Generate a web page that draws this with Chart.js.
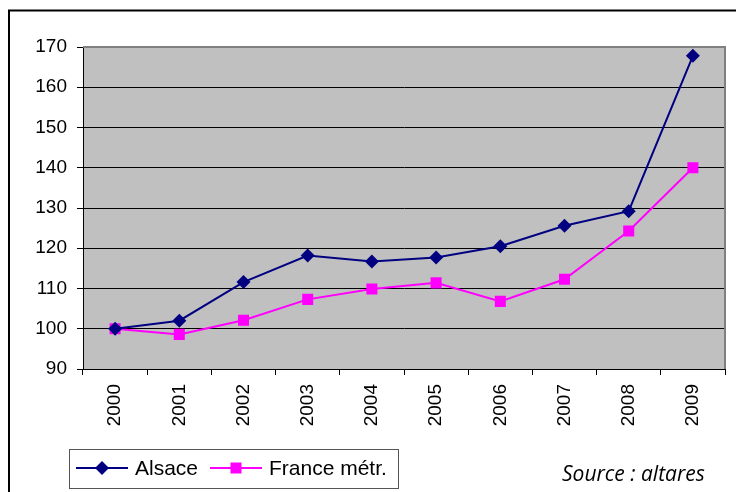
<!DOCTYPE html>
<html>
<head>
<meta charset="utf-8">
<script src="https://cdn.jsdelivr.net/npm/chart.js@4/dist/chart.umd.min.js"></script>
<style>
  html, body { margin: 0; padding: 0; background: #fff; overflow: hidden; }
  canvas { display: block; }
</style>
</head>
<body>
<canvas id="graphique" width="736" height="492"></canvas>
<script>
// données (indice base 100 en 2000)
const annees = ['2000', '2001', '2002', '2003', '2004', '2005', '2006', '2007', '2008', '2009'];
const alsace = [100, 102, 111.6, 118.2, 116.7, 117.7, 120.5, 125.6, 129.2, 167.8];
const franceMetr = [100, 98.6, 102.1, 107.3, 109.9, 111.4, 106.8, 112.3, 124.3, 140.0];
const graduations = [90, 100, 110, 120, 130, 140, 150, 160, 170];

const police = '"Liberation Sans", Arial, sans-serif';

// fond gris, cadre, légende et source
const decor = {
    id: 'decor',
    beforeDraw(chart) {
        const { ctx, chartArea: a } = chart;
        ctx.save();
        ctx.fillStyle = '#c0c0c0';
        ctx.fillRect(a.left, a.top, a.right - a.left, a.bottom - a.top);
        ctx.restore();
    },
    beforeDatasetsDraw(chart) {
        const { ctx, chartArea: a } = chart;
        ctx.save();
        ctx.strokeStyle = '#808080';
        ctx.lineWidth = 2;
        ctx.beginPath();
        ctx.moveTo(a.left, a.top);
        ctx.lineTo(a.right, a.top);
        ctx.lineTo(a.right, a.bottom);
        ctx.stroke();
        ctx.restore();
    },
    afterDraw(chart) {
        const ctx = chart.ctx;
        ctx.save();
        // cadre extérieur
        ctx.strokeStyle = '#000';
        ctx.lineWidth = 2;
        ctx.beginPath();
        ctx.moveTo(9, 492);
        ctx.lineTo(9, 10.5);
        ctx.lineTo(736, 10.5);
        ctx.stroke();

        // légende
        ctx.strokeStyle = '#555';
        ctx.lineWidth = 1;
        ctx.strokeRect(69.5, 449.5, 329, 39);
        const y = 468;
        ctx.lineWidth = 2;
        ctx.strokeStyle = '#000080';
        ctx.beginPath(); ctx.moveTo(76, y); ctx.lineTo(128, y); ctx.stroke();
        ctx.fillStyle = '#000080';
        ctx.beginPath();
        ctx.moveTo(102, y - 7); ctx.lineTo(109, y); ctx.lineTo(102, y + 7); ctx.lineTo(95, y);
        ctx.closePath(); ctx.fill();
        ctx.strokeStyle = '#ff00ff';
        ctx.beginPath(); ctx.moveTo(210, y); ctx.lineTo(262, y); ctx.stroke();
        ctx.fillStyle = '#ff00ff';
        ctx.fillRect(230.5, y - 5.5, 11, 11);

        ctx.fillStyle = '#000';
        ctx.font = '21px ' + police;
        ctx.textBaseline = 'middle';
        ctx.fillText('Alsace', 135, y + 1);
        ctx.fillText('France métr.', 269, y + 1);

        // source
        ctx.font = 'italic 21px "Open Sans", sans-serif';
        ctx.textBaseline = 'alphabetic';
        ctx.fillText('Source : altares', 562, 481);
        ctx.restore();
    }
};

new Chart(document.getElementById('graphique'), {
    type: 'line',
    data: {
        labels: annees,
        datasets: [{
            label: 'Alsace',
            data: alsace,
            borderColor: '#000080',
            backgroundColor: '#000080',
            borderWidth: 2,
            pointStyle: 'rectRot',
            pointRadius: 7,
            pointBorderWidth: 0,
            tension: 0
        }, {
            label: 'France métr.',
            data: franceMetr,
            borderColor: '#ff00ff',
            backgroundColor: '#ff00ff',
            borderWidth: 2,
            pointStyle: 'rect',
            pointRadius: 7.8,
            pointBorderWidth: 0,
            tension: 0
        }]
    },
    options: {
        responsive: false,
        animation: false,
        devicePixelRatio: 1,
        layout: { padding: { top: 47, right: 11, left: 0, bottom: 0 } },
        plugins: {
            legend: { display: false },
            tooltip: { enabled: false }
        },
        scales: {
            x: {
                offset: true,
                afterFit(scale) { scale.height = 123; },
                grid: {
                    offset: true,
                    drawOnChartArea: false,
                    tickLength: 6,
                    color: '#000'
                },
                border: { color: '#000', width: 1 },
                ticks: {
                    minRotation: 90,
                    maxRotation: 90,
                    padding: 9,
                    color: '#000',
                    font: { family: police, size: 19 }
                }
            },
            y: {
                min: 90,
                max: 170,
                afterFit(scale) { scale.width = 83; },
                afterBuildTicks(scale) {
                    scale.ticks = graduations.map(v => ({ value: v }));
                },
                grid: {
                    color: ctx => ctx.tick && ctx.tick.value === 170 ? '#808080' : '#000',
                    tickColor: '#000',
                    tickLength: 6,
                    lineWidth: 1
                },
                border: { color: '#000', width: 1 },
                ticks: {
                    padding: 10,
                    color: '#000',
                    font: { family: police, size: 19 }
                }
            }
        }
    },
    plugins: [decor]
});
</script>
</body>
</html>
